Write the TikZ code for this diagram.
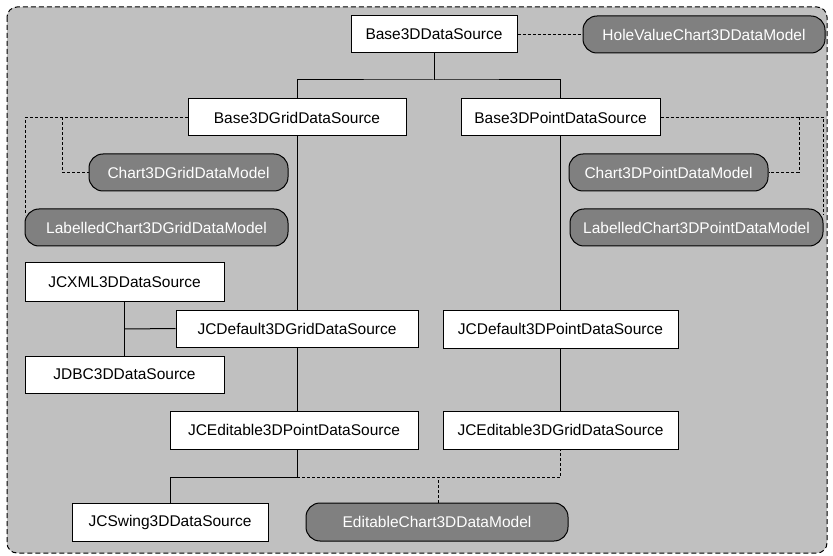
\documentclass[tikz,border=0pt]{standalone}
\usepackage{fontspec}
\setmainfont{Liberation Sans}
\usepackage{tikz}
\usetikzlibrary{arrows.meta, positioning, calc}

\definecolor{panelgray}{HTML}{C0C0C0}
\definecolor{pillgray}{HTML}{808080}

\begin{document}
\begin{tikzpicture}[x=1pt, y=-1pt,
    srcbox/.style={draw=black, fill=white, line width=1pt, minimum height=37pt,
      inner sep=0pt, font=\fontsize{15.5}{18}\selectfont},
    modelpill/.style={draw=black, fill=pillgray, text=white, line width=1pt,
      rounded corners=14pt, minimum height=37pt, inner sep=0pt,
      font=\fontsize{15.5}{18}\selectfont},
    extends/.style={draw=black, line width=1pt},
    realizes/.style={draw=black, line width=1pt, dash pattern=on 3pt off 2pt}]
  \useasboundingbox (0,0) rectangle (833,556);

  % Panel
  \draw[fill=panelgray, line width=1pt, dash pattern=on 5pt off 3pt, rounded corners=10pt]
    (7,7) rectangle (827,553);

  % Data sources
  \node[srcbox, minimum width=166pt] (base)   at (434,34.5)  {Base3DDataSource};
  \node[srcbox, minimum width=218pt] (bgrid)  at (297,117.5) {Base3DGridDataSource};
  \node[srcbox, minimum width=199pt] (bpoint) at (560.5,117.5) {Base3DPointDataSource};
  \node[srcbox, minimum width=199pt, minimum height=38pt] (xml) at (124.5,282) {JCXML3DDataSource};
  \node[srcbox, minimum width=242pt] (dgrid)  at (297,328.5) {JCDefault3DGridDataSource};
  \node[srcbox, minimum width=199pt] (jdbc)   at (124.5,374.5) {JDBC3DDataSource};
  \node[srcbox, minimum width=235pt, minimum height=38pt] (dpoint) at (560.5,329) {JCDefault3DPointDataSource};
  \node[srcbox, minimum width=248pt, minimum height=38pt] (epoint) at (294,430) {JCEditable3DPointDataSource};
  \node[srcbox, minimum width=235pt, minimum height=38pt] (egrid)  at (560.5,430) {JCEditable3DGridDataSource};
  \node[srcbox, minimum width=196pt, minimum height=38pt] (swing)  at (170,522) {JCSwing3DDataSource};

  % Data models
  \node[modelpill, minimum width=242pt] (hole)   at (704,34.5)  {HoleValueChart3DDataModel};
  \node[modelpill, minimum width=199pt] (cgrid)  at (188.5,172.5) {Chart3DGridDataModel};
  \node[modelpill, minimum width=263pt] (lgrid)  at (156.5,227.5) {LabelledChart3DGridDataModel};
  \node[modelpill, minimum width=199pt] (cpoint) at (668.5,172.5) {Chart3DPointDataModel};
  \node[modelpill, minimum width=253pt] (lpoint) at (696.5,227.5) {LabelledChart3DPointDataModel};
  \node[modelpill, minimum width=262pt, minimum height=38pt] (editable) at (437,522) {EditableChart3DDataModel};

  % Junctions
  \coordinate (bt) at (434,80);
  \coordinate (gk) at (62,117.5);
  \coordinate (pk) at (799,117.5);
  \coordinate (xk) at (124.5,329);
  \coordinate (jn) at (297,477);
  \coordinate (ek) at (438,477);

  % Inheritance
  \draw[extends] (base.south) -- (bt);
  \draw[extends] (bgrid.north) |- (bt) -| (bpoint.north);
  \draw[extends] (bgrid.south) -- (dgrid.north);
  \draw[extends] (dgrid.south) -- (dgrid.south |- epoint.north);
  \draw[extends] (xml.south) -- (jdbc.north);
  \draw[extends] (xk) -- (dgrid.west);
  \draw[extends] (bpoint.south) -- (dpoint.north);
  \draw[extends] (dpoint.south) -- (egrid.north);
  \draw[extends] (dgrid.south |- epoint.south) -- (jn) -| (swing.north);

  % Interfaces
  \draw[realizes] (base.east) -- (hole.west);
  \draw[realizes] (bgrid.west) -| ([xshift=1pt, yshift=-7pt]lgrid.north west);
  \draw[realizes] (gk) |- (cgrid.west);
  \draw[realizes] (bpoint.east) -| ([yshift=-7pt]lpoint.north east);
  \draw[realizes] (pk) |- (cpoint.east);
  \draw[realizes] (jn) -| (egrid.south);
  \draw[realizes] (editable.north -| ek) -- (ek);
\end{tikzpicture}
\end{document}
